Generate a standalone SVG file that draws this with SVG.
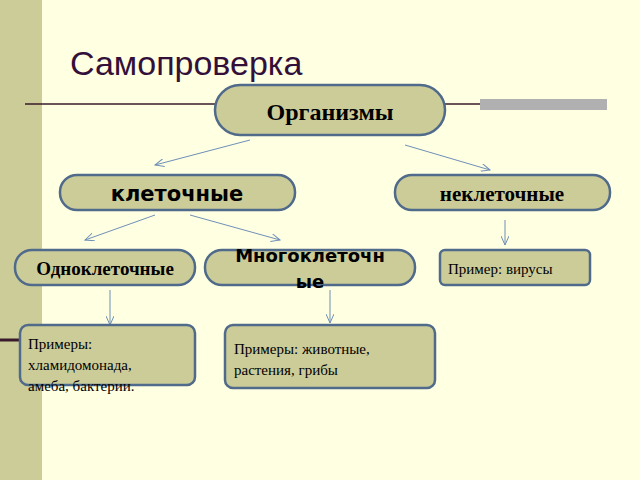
<svg xmlns="http://www.w3.org/2000/svg" width="640" height="480" viewBox="0 0 640 480">
<style>
.n{fill:#CCCC99;stroke:#4F6A8A;stroke-width:2.5}
.s{font-family:"Liberation Serif",serif;fill:#000}
.a{font-family:"DejaVu Sans",sans-serif;font-weight:bold;fill:#000}
.c line{stroke:#6F8FB8;stroke-width:1}
</style>
<defs><marker id="m" markerWidth="10" markerHeight="8" refX="9" refY="4" orient="auto" markerUnits="userSpaceOnUse"><path d="M0,0 L9,4 L0,8" fill="none" stroke="#6F8FB8" stroke-width="1"/></marker></defs>
<rect width="640" height="480" fill="#FFFFE1"/>
<rect x="0" y="0" width="42" height="480" fill="#CCCC99"/>
<line x1="0" y1="340" x2="20" y2="340" stroke="#3A1A2A" stroke-width="3"/>
<line x1="25" y1="104" x2="480" y2="104" stroke="#3A1A2A" stroke-width="1.5"/>
<rect x="480" y="99" width="127" height="11" fill="#B0B0B0"/>
<text x="70" y="75" font-family="Liberation Sans,sans-serif" font-size="34" fill="#33103A">Самопроверка</text>
<g class="c">
<line x1="250" y1="140" x2="155" y2="165" marker-end="url(#m)"/>
<line x1="405" y1="145" x2="490" y2="170" marker-end="url(#m)"/>
<line x1="155" y1="215" x2="85" y2="240" marker-end="url(#m)"/>
<line x1="190" y1="215" x2="280" y2="240" marker-end="url(#m)"/>
<line x1="505" y1="220" x2="505" y2="245" marker-end="url(#m)"/>
<line x1="110" y1="290" x2="110" y2="325" marker-end="url(#m)"/>
<line x1="330" y1="290" x2="330" y2="323" marker-end="url(#m)"/>
</g>
<g id="org"><rect class="n" x="215" y="85" width="230" height="50" rx="25"/><text class="s" x="330" y="120" font-size="24" font-weight="bold" text-anchor="middle">Организмы</text></g>
<g id="kl"><rect class="n" x="60" y="175" width="235" height="35" rx="17"/><text class="a" x="177" y="201" font-size="21" text-anchor="middle">клеточные</text></g>
<g id="nekl"><rect class="n" x="395" y="175" width="215" height="35" rx="17"/><text class="s" x="502" y="201" font-size="21" font-weight="bold" text-anchor="middle">неклеточные</text></g>
<g id="odno"><rect class="n" x="15" y="250" width="180" height="35" rx="17"/><text class="s" x="105" y="275" font-size="19" font-weight="bold" text-anchor="middle">Одноклеточные</text></g>
<g id="mnogo"><rect class="n" x="205" y="250" width="210" height="35" rx="17"/><text class="a" x="310" y="262" font-size="18" text-anchor="middle">Многоклеточн</text><text class="a" x="310" y="288" font-size="18" text-anchor="middle">ые</text></g>
<g id="vir"><rect class="n" x="440" y="250" width="150" height="35" rx="5"/><text class="s" x="448" y="274" font-size="15">Пример: вирусы</text></g>
<g id="pr1"><rect class="n" x="20" y="325" width="175" height="60" rx="8"/><text class="s" font-size="15"><tspan x="28" y="349">Примеры:</tspan><tspan x="28" y="370">хламидомонада,</tspan><tspan x="28" y="391">амеба, бактерии.</tspan></text></g>
<g id="pr2"><rect class="n" x="225" y="325" width="210" height="63" rx="8"/><text class="s" font-size="15"><tspan x="234" y="354">Примеры: животные,</tspan><tspan x="234" y="375">растения, грибы</tspan></text></g>
</svg>
